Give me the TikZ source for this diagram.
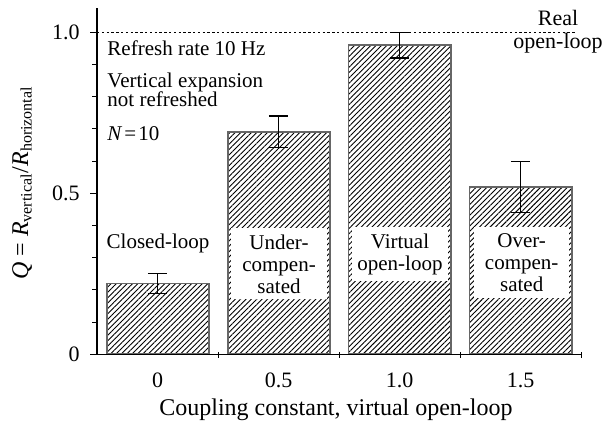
\documentclass[tikz,border=0pt]{standalone}
\usepackage{fontspec}
\setmainfont{Liberation Serif}
\usetikzlibrary{patterns.meta}

\begin{document}
\begin{tikzpicture}[x=60.5pt,y=161pt,
  bar/.style={draw=black!60, line width=0.8pt,
    pattern={Lines[angle=45,distance=1.9pt,line width=0.45pt]}},
  errbar/.style={line width=0.55pt},
  tag/.style={font=\fontsize{10.5}{11}\selectfont, align=center, inner sep=0pt},
  whitetag/.style={tag, fill=white, inner xsep=0.8pt, inner ysep=3pt, text width=46pt, anchor=north},
  ticklabel/.style={font=\fontsize{11}{13}\selectfont, inner sep=0pt}]
\useasboundingbox (-0.802,-0.2258) rectangle (4.215,1.1003);

\draw[bar] (0.08,0) rectangle (0.925,0.22) ;
\draw[bar] (1.08,0) rectangle (1.925,0.69) ;
\draw[bar] (2.08,0) rectangle (2.925,0.96) ;
\draw[bar] (3.08,0) rectangle (3.925,0.52) ;

\foreach \i/\lo/\hi in {0/0.19/0.25, 1/0.643/0.74, 2/0.92/1.0, 3/0.44/0.60}
  \draw[errbar] (\i+0.5,\lo) -- (\i+0.5,\hi)
    (\i+0.42,\lo) -- (\i+0.58,\lo) (\i+0.42,\hi) -- (\i+0.58,\hi);

\draw[line width=0.4pt, dash pattern=on 1.2pt off 1.2pt] (0,1) -- (3.95,1);

\draw[line width=0.6pt] (-0.058,0) -- (4,0);
\draw[line width=0.6pt] (0,0) -- (0,1.075);
\foreach \v in {0.1,0.2,0.3,0.4,0.6,0.7,0.8,0.9}
  \draw[line width=0.5pt] (0,\v) -- (-0.041,\v);
\foreach \v in {0.5,1}
  \draw[line width=0.5pt] (0,\v) -- (-0.058,\v);
\foreach \k in {1,...,4}
  \draw[line width=0.5pt] (\k,0.006) -- (\k,-0.012);

\node[ticklabel, anchor=east] (y0) at (-0.14,0) {0};
\node[ticklabel, anchor=east] (y05) at (-0.14,0.5) {0.5};
\node[ticklabel, anchor=east] (y10) at (-0.14,1) {1.0};

\node[ticklabel] (x0) at (0.5,-0.08) {0};
\node[ticklabel] (x05) at (1.5,-0.08) {0.5};
\node[ticklabel] (x10) at (2.5,-0.08) {1.0};
\node[ticklabel] (x15) at (3.5,-0.08) {1.5};

\node[font=\fontsize{12}{14}\selectfont, inner sep=0pt, anchor=base] (xtitle) at (1.975,-0.19)
  {Coupling constant, virtual open-loop};
\node[font=\fontsize{12}{14}\selectfont, rotate=90, inner sep=0pt] (ytitle) at (-0.62,0.532)
  {\textit{Q} = \textit{R}\textsubscript{vertical}/\textit{R}\textsubscript{horizontal}};

\node[tag, anchor=base west] (rate) at (0.083,0.929) {Refresh rate 10 Hz};
\node[tag, anchor=base west] (expand) at (0.083,0.830) {Vertical expansion};
\node[tag, anchor=base west] (norefresh) at (0.083,0.768) {not refreshed};
\node[tag, anchor=base west] (count) at (0.083,0.665) {\textit{N}\kern1pt=\kern1pt10};

\node[font=\fontsize{11}{11.5}\selectfont, align=center, anchor=base, inner sep=0pt] (real)
  at (3.81,0.951) {Real\\open-loop};

\node[tag, anchor=base] (closed) at (0.504,0.327) {Closed-loop};
\node[whitetag] (under) at (1.504,0.392) {Under-\\compen-\\sated};
\node[whitetag] (virtual) at (2.504,0.395) {Virtual\\open-loop};
\node[whitetag] (over) at (3.51,0.395) {Over-\\compen-\\sated};
\end{tikzpicture}
\end{document}
